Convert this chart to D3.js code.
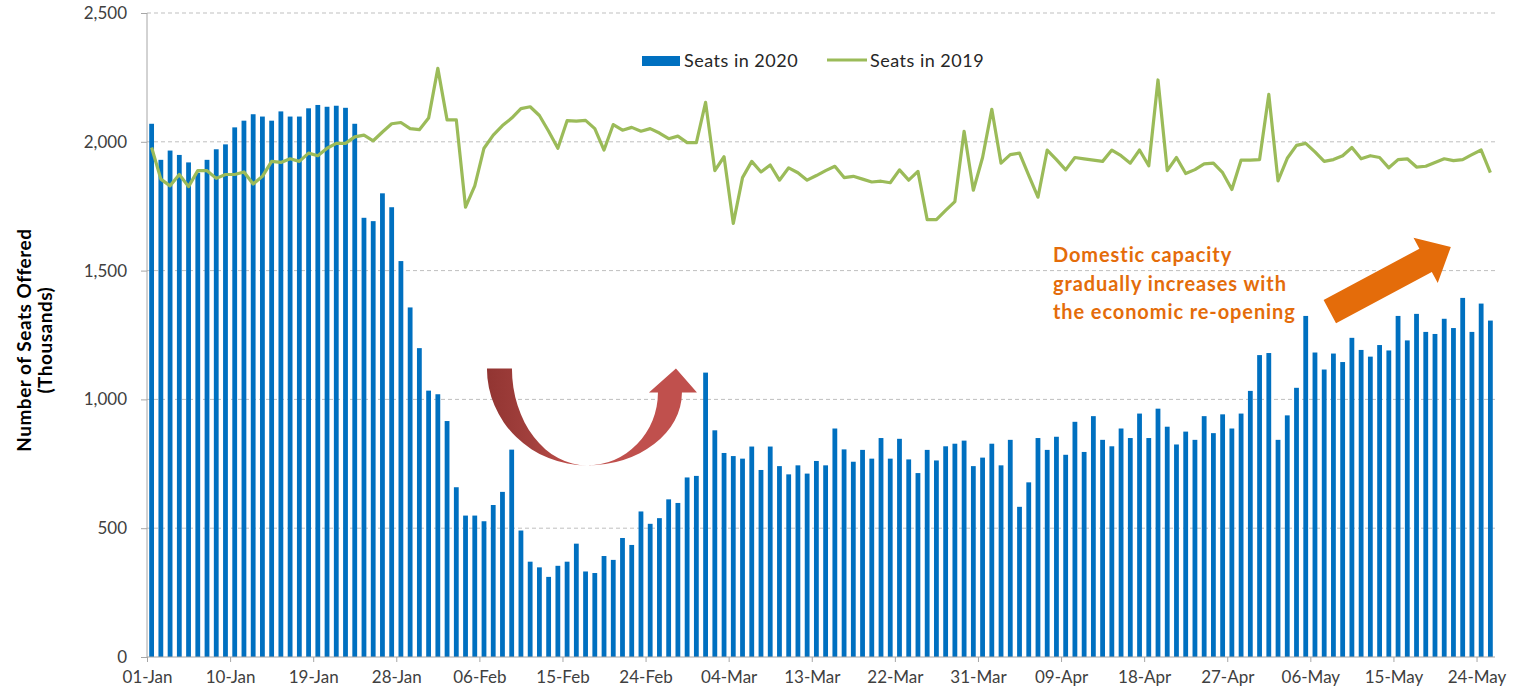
<!DOCTYPE html>
<html lang="en">
<head>
    <meta charset="utf-8">
    <title>Seats Offered 2020 vs 2019</title>
    <style>
        body { margin:0; background:white; }
        text { font-family: Lato, "Open Sans", sans-serif; }
        .axis text { font-size:17px; fill:#404040; }
        .axis path, .axis line { stroke:#A6A6A6; }
        .grid line { stroke:#BFBFBF; stroke-dasharray:4,3; }
        .ylabel { font-size:19px; font-weight:bold; fill:#000; letter-spacing:0.5px; }
        .legend text { font-size:18px; fill:#262626; letter-spacing:0.5px; }
        .note { font-size:20px; font-weight:bold; fill:#E46C0A; letter-spacing:0.9px; }
    </style>
</head>
<body>
<svg class="chart"></svg>
<script src="https://cdnjs.cloudflare.com/ajax/libs/d3/7.8.5/d3.min.js"></script>
<script>
    // first day of the series, one bar per day
    var startDate = new Date(2020, 0, 1);

    // seats offered in 2020 (thousands), 01-Jan .. 25-May
    var seats2020 = [
        2070, 1930, 1966, 1949, 1920, 1880, 1930, 1971, 1990, 2056,
        2082, 2107, 2098, 2082, 2118, 2098, 2098, 2130, 2143, 2136,
        2140, 2132, 2070, 1705, 1692, 1800, 1746, 1537, 1357, 1199,
        1034, 1020, 916, 659, 549, 549, 527, 590, 641, 805,
        491, 370, 348, 311, 354, 370, 440, 332, 326, 392,
        377, 462, 435, 565, 517, 539, 612, 598, 697, 703,
        1104, 880, 792, 780, 770, 817, 726, 817, 741, 709,
        744, 712, 761, 744, 887, 806, 758, 804, 770, 850,
        770, 847, 767, 714, 804, 763, 818, 828, 840, 741,
        774, 828, 744, 843, 583, 678, 850, 804, 855, 785,
        913, 796, 935, 843, 818, 887, 850, 945, 850, 964,
        894, 825, 875, 843, 935, 869, 942, 887, 945, 1033,
        1172, 1180, 843, 938, 1045, 1324, 1182, 1116, 1178, 1145,
        1239, 1192, 1166, 1211, 1190, 1324, 1229, 1332, 1262, 1254,
        1313, 1277, 1394, 1262, 1372, 1306
    ];

    // seats offered on the same days in 2019 (thousands)
    var seats2019 = [
        1978, 1855, 1829, 1873, 1826, 1888, 1888, 1858, 1873, 1873,
        1883, 1836, 1866, 1924, 1920, 1934, 1924, 1956, 1946, 1975,
        1994, 1994, 2019, 2026, 2004, 2038, 2070, 2075, 2051, 2047,
        2092, 2285, 2085, 2085, 1746, 1829, 1975, 2026, 2063, 2092,
        2129, 2136, 2102, 2041, 1975, 2082, 2080, 2083, 2051, 1968,
        2067, 2045, 2056, 2041, 2051, 2034, 2012, 2022, 1997, 1997,
        2153, 1888, 1942, 1683, 1861, 1924, 1883, 1910, 1851, 1899,
        1880, 1851, 1869, 1888, 1905, 1861, 1866, 1855, 1844, 1847,
        1841, 1891, 1851, 1885, 1698, 1698, 1734, 1768, 2041, 1812,
        1939, 2126, 1917, 1950, 1956, 1870, 1785, 1968, 1931, 1891,
        1939, 1934, 1929, 1924, 1968, 1946, 1917, 1968, 1907, 2240,
        1888, 1939, 1877, 1892, 1914, 1917, 1880, 1815, 1929, 1929,
        1931, 2184, 1848, 1936, 1986, 1994, 1961, 1924, 1931, 1946,
        1978, 1934, 1946, 1939, 1899, 1931, 1934, 1902, 1905, 1920,
        1934, 1927, 1931, 1950, 1968, 1880
    ];

    var tickLabels = ["01-Jan", "10-Jan", "19-Jan", "28-Jan", "06-Feb", "15-Feb", "24-Feb",
                      "04-Mar", "13-Mar", "22-Mar", "31-Mar", "09-Apr", "18-Apr", "27-Apr",
                      "06-May", "15-May", "24-May"];
    var yTicks = [0, 500, 1000, 1500, 2000, 2500];

    var margin = {top:13, left:147, right:24, bottom:34};
    var W = 1519, H = 691;
    var width = W - margin.left - margin.right,
        height = H - margin.top - margin.bottom;

    var days = seats2020.map(function(d, i){ return d3.timeDay.offset(startDate, i); });
    var endDate = d3.timeDay.offset(startDate, days.length);

    var x = d3.scaleTime().domain([startDate, endDate]).range([0, width]);
    var y = d3.scaleLinear().domain([0, 2500]).range([height, 0]);
    var band = width / days.length;
    function cx(i){ return x(days[i]) + band / 2; }

    var svg = d3.select('.chart').attr('width', W).attr('height', H);
    var chart = svg.append('g')
        .attr('transform', 'translate(' + margin.left + ',' + margin.top + ')');

    // dashed gridlines
    chart.append('g').attr('class', 'grid')
      .selectAll('line').data(yTicks.slice(1))
      .enter().append('line')
        .attr('x1', 0).attr('x2', width)
        .attr('y1', function(d){ return y(d); })
        .attr('y2', function(d){ return y(d); });

    // bars for 2020
    chart.append('g').selectAll('rect')
        .data(seats2020)
      .enter().append('rect')
        .attr('x', function(d, i){ return cx(i) - 2.4; })
        .attr('width', 4.8)
        .attr('y', function(d){ return y(d); })
        .attr('height', function(d){ return height - y(d); })
        .attr('fill', '#0070C0');

    // line for 2019
    var line = d3.line()
        .x(function(d, i){ return cx(i); })
        .y(function(d){ return y(d); });
    chart.append('path')
        .datum(seats2019)
        .attr('d', line)
        .attr('fill', 'none')
        .attr('stroke', '#9BBB59')
        .attr('stroke-width', 3.2)
        .attr('stroke-linejoin', 'round');

    // axes
    var tickDates = tickLabels.map(function(t, k){ return days[k * 9]; });
    var xAxis = d3.axisBottom(x)
        .tickValues(tickDates)
        .tickSize(5)
        .tickPadding(9)
        .tickFormat(function(d, k){ return tickLabels[k]; });
    chart.append('g')
        .attr('class', 'axis')
        .attr('transform', 'translate(0,' + height + ')')
        .call(xAxis)
        .select('.domain').attr('d', 'M0,0H' + width);

    var yAxis = d3.axisLeft(y)
        .tickValues(yTicks)
        .tickSize(6)
        .tickPadding(14)
        .tickFormat(d3.format(','));
    chart.append('g')
        .attr('class', 'axis')
        .call(yAxis)
        .select('.domain').attr('d', 'M0,' + height + 'V0');

    // y axis title
    var ylab = svg.append('g').attr('class', 'ylabel');
    ylab.append('text')
        .attr('transform', 'translate(31,' + (margin.top + y(1230)) + ') rotate(-90)')
        .attr('text-anchor', 'middle')
        .text('Number of Seats Offered');
    ylab.append('text')
        .attr('transform', 'translate(52,' + (margin.top + y(1230)) + ') rotate(-90)')
        .attr('text-anchor', 'middle')
        .text('(Thousands)');

    // legend
    var legend = svg.append('g').attr('class', 'legend');
    legend.append('rect')
        .attr('x', 642).attr('y', 56).attr('width', 38).attr('height', 10)
        .attr('fill', '#0070C0');
    legend.append('text').attr('x', 684).attr('y', 67).text('Seats in 2020');
    legend.append('line')
        .attr('x1', 827).attr('x2', 867).attr('y1', 60).attr('y2', 60)
        .attr('stroke', '#9BBB59').attr('stroke-width', 3);
    legend.append('text').attr('x', 870).attr('y', 67).text('Seats in 2019');

    // red U-turn arrow (anchored in data space)
    var ax = margin.left + x(days[47]) + 6, ay = margin.top + y(1120);
    var grad = svg.append('defs').append('linearGradient')
        .attr('id', 'uturn').attr('x1', '0%').attr('x2', '100%');
    grad.append('stop').attr('offset', '0%').attr('stop-color', '#923532');
    grad.append('stop').attr('offset', '45%').attr('stop-color', '#A2403D');
    grad.append('stop').attr('offset', '100%').attr('stop-color', '#C9524E');
    svg.append('path')
        .attr('d', 'M' + (ax - 100) + ',' + ay + ' L' + (ax - 75) + ',' + ay +
            ' A75,97 0 0 0 ' + ax + ',' + (ay + 97) +
            ' A100,97 0 0 1 ' + (ax - 100) + ',' + ay + ' Z')
        .attr('fill', 'url(#uturn)');
    svg.append('path')
        .attr('d', 'M' + ax + ',' + (ay + 97) +
            ' A95,73 0 0 0 ' + (ax + 95) + ',' + (ay + 24) +
            ' L' + (ax + 110) + ',' + (ay + 24) +
            ' L' + (ax + 89) + ',' + ay +
            ' L' + (ax + 62) + ',' + (ay + 24) +
            ' L' + (ax + 71) + ',' + (ay + 24) +
            ' A71,73 0 0 1 ' + ax + ',' + (ay + 97) + ' Z')
        .attr('fill', '#C0504D');

    // orange trend arrow
    var tail = [margin.left + x(days[128]) + 1, margin.top + y(1341)],
        tip = [margin.left + x(days[141]) + 2, margin.top + y(1592)];
    var dx = tip[0] - tail[0], dy = tip[1] - tail[1], len = Math.sqrt(dx*dx + dy*dy);
    var ux = dx / len, uy = dy / len, nx = -uy, ny = ux;
    var headLen = 28.6, shaft = 13.2, head = 25.7;
    var bx = tip[0] - headLen * ux, by = tip[1] - headLen * uy;
    var pts = [
        [tail[0] + shaft*nx, tail[1] + shaft*ny],
        [bx + shaft*nx, by + shaft*ny],
        [bx + head*nx, by + head*ny],
        tip,
        [bx - head*nx, by - head*ny],
        [bx - shaft*nx, by - shaft*ny],
        [tail[0] - shaft*nx, tail[1] - shaft*ny]
    ];
    svg.append('polygon')
        .attr('points', pts.map(function(p){ return p.join(','); }).join(' '))
        .attr('fill', '#E46C0A');

    // annotation text
    var note = svg.append('text').attr('class', 'note');
    ['Domestic capacity', 'gradually increases with', 'the economic re-opening']
        .forEach(function(t, k){
            note.append('tspan').attr('x', 1053).attr('y', 262 + k * 28.5).text(t);
        });
</script>
</body>
</html>
